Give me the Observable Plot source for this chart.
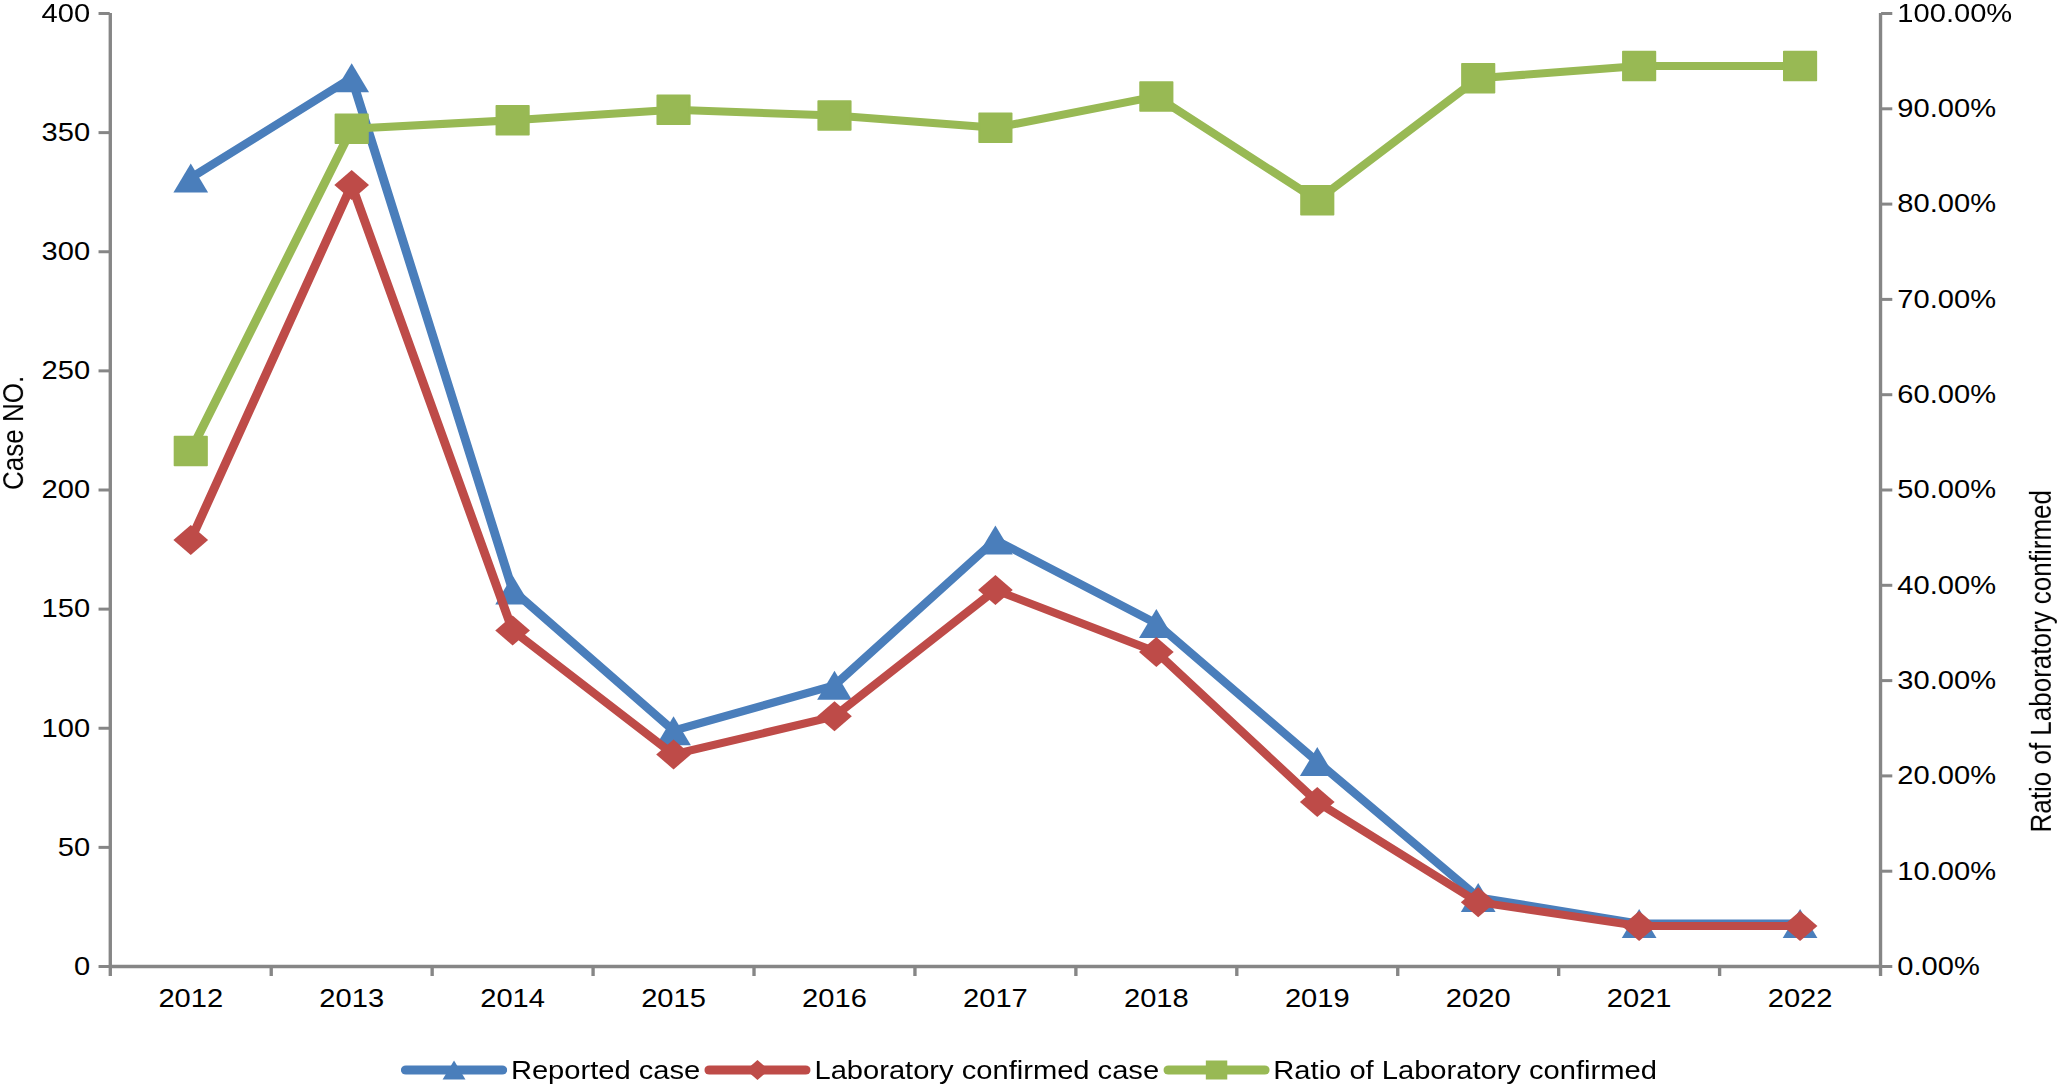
<!DOCTYPE html>
<html>
<head>
<meta charset="utf-8">
<script src="https://cdn.jsdelivr.net/npm/d3@7"></script>
<script src="https://cdn.jsdelivr.net/npm/@observablehq/plot@0.6"></script>
<style>
  html, body { margin: 0; padding: 0; background: #fff; overflow: hidden; }
  #wrap { width: 1838px; transform: scaleX(1.1197); transform-origin: 0 0;
          font-family: "Liberation Sans", Arial, sans-serif; }
  #legend { display: flex; justify-content: center; align-items: center; height: 30px;
            margin-top: 30px; font-size: 26px; color: #000; white-space: nowrap; }
  .item { display: flex; align-items: center; margin: 0 2px; }
  .item svg { margin-right: 3px; display: block; }
</style>
</head>
<body>
<div id="wrap"><div id="chart"></div><div id="legend"></div></div>
<script>
// ---- data ----
const years = [2012, 2013, 2014, 2015, 2016, 2017, 2018, 2019, 2020, 2021, 2022];
const reported = [331, 373, 158, 99, 118, 179, 144, 86, 29, 18, 18];
const confirmed = [179, 328, 141, 89, 105, 158, 132, 69, 27, 17, 17];
const ratio = [54.1, 87.9, 88.8, 89.9, 89.3, 88.0, 91.3, 80.4, 93.2, 94.5, 94.5]; // percent
const countTicks = [0, 50, 100, 150, 200, 250, 300, 350, 400];
const ratioTicks = [0, 10, 20, 30, 40, 50, 60, 70, 80, 90, 100];
const seriesNames = ["Reported case", "Laboratory confirmed case", "Ratio of Laboratory confirmed"];
const leftTitle = "Case NO.";
const rightTitle = "Ratio of Laboratory confirmed";

// ---- styling ----
const colors = ["#4A7EBB", "#BE4B48", "#98B954"];
const axisColor = "#868686";
const font = "'Liberation Sans', Arial, sans-serif";

const rows = years.map((year, i) => ({year, reported: reported[i], confirmed: confirmed[i], ratio: ratio[i]}));
const factor = countTicks[countTicks.length - 1] / ratioTicks[ratioTicks.length - 1];
const xDomain = [years[0] - 0.5, years[years.length - 1] + 0.5];
const bounds = [xDomain[0], ...years.map(y => y + 0.5)];

// marker shapes (Excel-like)
const triSym = {draw(c) { const w = 15.5, h = 14.5; c.moveTo(0, -h); c.lineTo(w, h); c.lineTo(-w, h); c.closePath(); }};
const diaSym = {draw(c) { const w = 15.5, h = 15; c.moveTo(0, -h); c.lineTo(w, 0); c.lineTo(0, h); c.lineTo(-w, 0); c.closePath(); }};
const sqSym = {draw(c) { const s = 14.5; c.moveTo(-s, -s); c.lineTo(s, -s); c.lineTo(s, s); c.lineTo(-s, s); c.closePath(); }};
const symbols = [triSym, diaSym, sqSym];

const W = 1838, H = 1025;
const chart = Plot.plot({
  width: W, height: H,
  marginLeft: 98, marginRight: 159, marginTop: 13, marginBottom: 59,
  style: {fontFamily: font, fontSize: "26px", color: "#000", background: "#fff", overflow: "visible"},
  x: {type: "linear", domain: xDomain},
  y: {domain: [0, countTicks[countTicks.length - 1]]},
  marks: [
    Plot.axisX({ticks: bounds, tickSize: 10, tickFormat: () => "", stroke: axisColor, strokeWidth: 3, label: null}),
    Plot.axisX({ticks: years, tickSize: 0, tickPadding: 22, tickFormat: d => String(d), label: null, fontSize: 26}),
    Plot.axisY({anchor: "left", ticks: countTicks, tickSize: 10, tickPadding: 8, stroke: axisColor, strokeWidth: 3,
                tickFormat: d => String(d), label: null, fontSize: 26}),
    Plot.axisY({anchor: "right", ticks: ratioTicks.map(p => p * factor), tickSize: 10, tickPadding: 5,
                stroke: axisColor, strokeWidth: 3, tickFormat: d => (d / factor).toFixed(2) + "%", label: null, fontSize: 26}),
    Plot.ruleY([0], {stroke: axisColor, strokeWidth: 3.5}),
    Plot.ruleX(xDomain, {stroke: axisColor, strokeWidth: 3}),
    Plot.line(rows, {x: "year", y: "reported", stroke: colors[0], strokeWidth: 8}),
    Plot.dot(rows, {x: "year", y: "reported", symbol: symbols[0], fill: colors[0]}),
    Plot.line(rows, {x: "year", y: "confirmed", stroke: colors[1], strokeWidth: 8}),
    Plot.dot(rows, {x: "year", y: "confirmed", symbol: symbols[1], fill: colors[1]}),
    Plot.line(rows, {x: "year", y: d => d.ratio * factor, stroke: colors[2], strokeWidth: 8}),
    Plot.dot(rows, {x: "year", y: d => d.ratio * factor, symbol: symbols[2], fill: colors[2], stroke: colors[2], strokeWidth: 1.5, strokeLinejoin: "round"}),
    Plot.text([leftTitle], {text: d => d, frameAnchor: "left", dx: -86, rotate: -90, fontSize: 26, fill: "#000"}),
    Plot.text([rightTitle], {text: d => d, frameAnchor: "right", dx: 144, rotate: -90, fontSize: 26, fill: "#000"})
  ]
});
document.getElementById("chart").appendChild(chart);

// ---- legend ----
const legend = d3.select("#legend");
seriesNames.forEach((name, i) => {
  const item = legend.append("div").attr("class", "item");
  const svg = item.append("svg").attr("width", 95).attr("height", 30);
  svg.append("line").attr("x1", 4.5).attr("x2", 90.5).attr("y1", 15).attr("y2", 15)
    .attr("stroke", colors[i]).attr("stroke-width", 9).attr("stroke-linecap", "round");
  svg.append("path").attr("d", d3.symbol(symbols[i])())
    .attr("transform", "translate(47.5,15) scale(0.66)").attr("fill", colors[i]);
  item.append("span").text(name);
});
</script>
</body>
</html>
